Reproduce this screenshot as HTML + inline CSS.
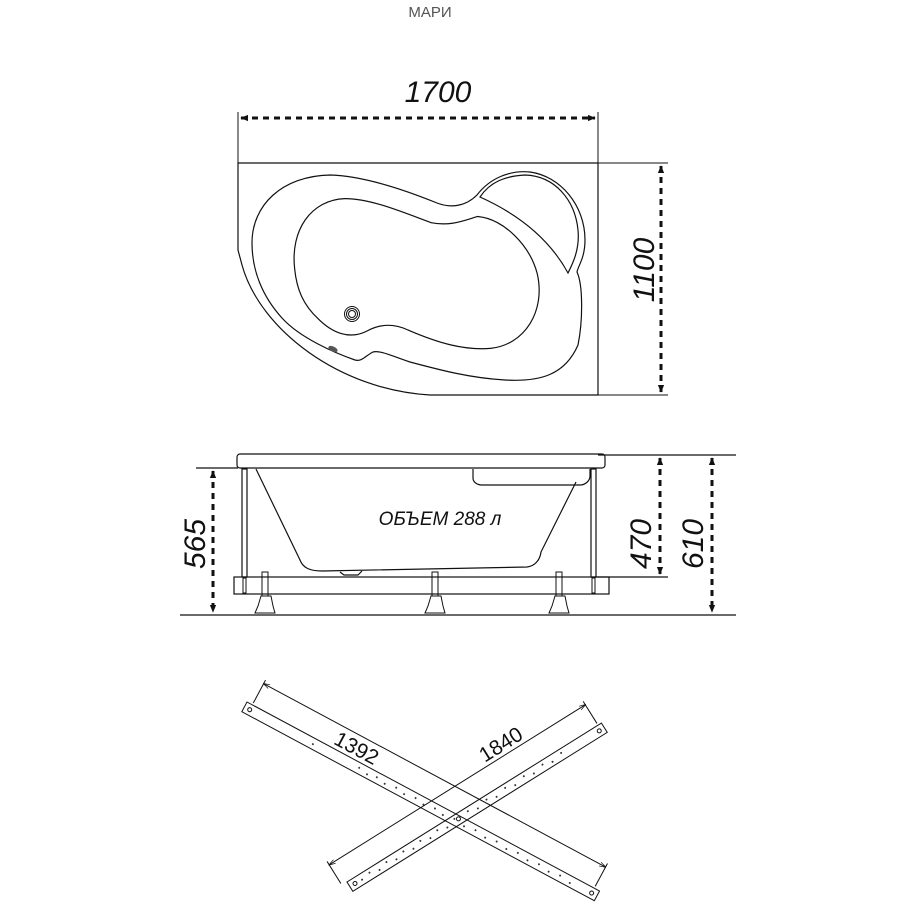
<!DOCTYPE html>
<html><head><meta charset="utf-8"><style>
html,body{margin:0;padding:0;background:#fff;}
svg{display:block;}
text{font-family:"Liberation Sans","DejaVu Sans",sans-serif;}
</style></head><body>
<svg width="912" height="912" viewBox="0 0 912 912" xmlns="http://www.w3.org/2000/svg">
<defs>
<marker id="ar" viewBox="0 0 10 10" refX="9" refY="5" markerWidth="8" markerHeight="8" orient="auto-start-reverse" markerUnits="userSpaceOnUse"><path d="M0,1 L10,5 L0,9 z" fill="#111"/></marker>
<marker id="as" viewBox="0 0 10 10" refX="9" refY="5" markerWidth="7" markerHeight="7" orient="auto-start-reverse" markerUnits="userSpaceOnUse"><path d="M0,2 L10,5 L0,8" fill="none" stroke="#111"/></marker>
</defs>
<text x="430" y="17" font-size="15" fill="#555" text-anchor="middle">МАРИ</text>

<!-- top view dims -->
<g stroke="#111" fill="none" stroke-width="1">
<line x1="238" y1="112" x2="238" y2="164"/>
<line x1="598" y1="112" x2="598" y2="164"/>
<line x1="598" y1="163" x2="668" y2="163"/>
<line x1="598" y1="395" x2="668" y2="395"/>
</g>
<g stroke="#111" stroke-width="3" fill="none">
<line x1="241" y1="118" x2="595" y2="118" stroke-dasharray="6,5" marker-start="url(#ar)" marker-end="url(#ar)"/>
<line x1="661" y1="166" x2="661" y2="392" stroke-dasharray="6,5" marker-start="url(#ar)" marker-end="url(#ar)"/>
</g>
<text x="438" y="102" font-size="30" font-style="italic" text-anchor="middle" fill="#111">1700</text>
<text transform="translate(654,270) rotate(-90)" font-size="30" font-style="italic" text-anchor="middle" fill="#111">1100</text>

<!-- top view bath -->
<g fill="none" stroke="#111" stroke-width="1.2">
<path d="M238,163 L598,163 L598,395 L430,395 C340,390 260,330 242,265 L238,250 Z"/>
<path d="M252,243 C252,205 282,176 330,175 C365,176 405,190 437,203 C450,208 465,207 477,195 C490,178 510,170 530,172 C560,176 585,205 585,240 C585,258 578,266 577,272 C583,285 583,320 578,345 C565,375 540,382 505,380 C470,378 440,370 410,362 C392,356 380,350 373,352 C365,356 362,362 355,360 C335,353 300,338 282,318 C262,296 252,270 252,243 Z"/>
<path d="M480,197 C490,182 505,176 525,175 C555,176 575,200 578,230 C580,250 572,265 568,273 C550,240 520,215 480,197 Z"/>
</g>
<path d="M300,268 C296,232 315,205 345,204 C370,204 400,217 430,228 C450,232 465,226 478,222 C500,224 525,248 532,275 C540,310 520,340 490,343 C465,345 440,338 410,325 C395,318 380,318 365,326 C350,334 335,328 322,315 C308,302 302,288 300,268 Z" fill="none" stroke="#111" stroke-width="12"/>
<path d="M300,268 C296,232 315,205 345,204 C370,204 400,217 430,228 C450,232 465,226 478,222 C500,224 525,248 532,275 C540,310 520,340 490,343 C465,345 440,338 410,325 C395,318 380,318 365,326 C350,334 335,328 322,315 C308,302 302,288 300,268 Z" fill="#fff" stroke="#fff" stroke-width="9.6"/>
<g fill="none" stroke="#111" stroke-width="1">
<circle cx="352" cy="314" r="7.5"/><circle cx="352" cy="314" r="5.5"/><circle cx="352" cy="314" r="3.5"/>
</g>
<ellipse cx="333" cy="349" rx="5" ry="2.5" fill="#555" transform="rotate(25 333 349)"/>

<!-- side view -->
<g stroke="#111" fill="none" stroke-width="1.2">
<line x1="598" y1="455" x2="736" y2="455"/>
<line x1="196" y1="468" x2="238" y2="468"/>
<line x1="595" y1="577" x2="668" y2="577"/>
<line x1="180" y1="615" x2="736" y2="615"/>
<rect x="237" y="454" width="368" height="14" rx="3"/>
<path d="M256,469 L300,560 C303,568 310,571 322,571 L527,567 C535,566 540,560 541,552 L576,482"/>
<path d="M473,469 L473,478 C473,482 477,485 482,485 L580,485 C585,485 590,481 590,476 L590,469"/>
<rect x="242" y="469" width="5" height="108"/>
<rect x="591" y="469" width="5" height="108"/>
<rect x="234" y="577" width="375" height="17"/>
<path d="M340,572 L344,575 L358,575 L362,571"/>
</g>
<g stroke="#111" fill="none" stroke-width="1">
<g><rect x="262" y="572" width="6" height="24"/><path d="M261,596 L271,596 L273,606 L275,613 L255,613 L258,606 Z"/></g>
<g><rect x="432" y="572" width="6" height="24"/><path d="M431,596 L441,596 L443,606 L445,613 L425,613 L428,606 Z"/></g>
<g><rect x="556" y="572" width="6" height="24"/><path d="M555,596 L565,596 L567,606 L569,613 L549,613 L552,606 Z"/></g>
<rect x="243" y="578" width="3" height="15"/><rect x="592" y="578" width="3" height="15"/>
</g>
<g stroke="#111" stroke-width="3" fill="none">
<line x1="213" y1="471" x2="213" y2="612" stroke-dasharray="6,5" marker-start="url(#ar)" marker-end="url(#ar)"/>
<line x1="660" y1="458" x2="660" y2="574" stroke-dasharray="6,5" marker-start="url(#ar)" marker-end="url(#ar)"/>
<line x1="712" y1="458" x2="712" y2="612" stroke-dasharray="6,5" marker-start="url(#ar)" marker-end="url(#ar)"/>
</g>
<text transform="translate(205,544) rotate(-90)" font-size="30" font-style="italic" text-anchor="middle" fill="#111">565</text>
<text transform="translate(651,544) rotate(-90)" font-size="30" font-style="italic" text-anchor="middle" fill="#111">470</text>
<text transform="translate(703,544) rotate(-90)" font-size="30" font-style="italic" text-anchor="middle" fill="#111">610</text>
<text x="440" y="525" font-size="19" font-style="italic" text-anchor="middle" fill="#111">ОБЪЕМ 288 л</text>

<!-- bottom bars -->
<g transform="translate(247,702) rotate(28.2)" stroke="#111" fill="none" stroke-width="1">
<rect x="0" y="0" width="400" height="11"/>
<line x1="6" y1="-24" x2="394" y2="-24" marker-start="url(#as)" marker-end="url(#as)"/>
<line x1="6" y1="-28" x2="6" y2="-2"/>
<line x1="394" y1="-28" x2="394" y2="-2"/>
<circle cx="6" cy="5.5" r="2"/><circle cx="394" cy="5.5" r="2"/>
<g fill="#333" stroke="none">
<circle cx="78" cy="6" r="1"/><circle cx="130" cy="5" r="1"/><circle cx="140" cy="7" r="1"/><circle cx="150" cy="5" r="1"/><circle cx="160" cy="7" r="1"/><circle cx="172" cy="5" r="1"/><circle cx="182" cy="7" r="1"/><circle cx="194" cy="5" r="1"/><circle cx="204" cy="7" r="1"/><circle cx="216" cy="5" r="1"/><circle cx="226" cy="7" r="1"/><circle cx="238" cy="5" r="1"/><circle cx="250" cy="7" r="1"/><circle cx="262" cy="5" r="1"/><circle cx="274" cy="7" r="1"/><circle cx="286" cy="5" r="1"/><circle cx="298" cy="7" r="1"/><circle cx="310" cy="5" r="1"/><circle cx="322" cy="7" r="1"/><circle cx="334" cy="5" r="1"/><circle cx="346" cy="7" r="1"/><circle cx="358" cy="5" r="1"/><circle cx="370" cy="7" r="1"/>
</g>
<text x="95" y="-4" font-size="21" fill="#111" stroke="none">1392</text>
</g>
<g transform="translate(347,882) rotate(-32)" stroke="#111" fill="none" stroke-width="1">
<rect x="0" y="0" width="300" height="11"/>
<line x1="-6" y1="-24" x2="296" y2="-24" marker-start="url(#as)" marker-end="url(#as)"/>
<line x1="-6" y1="-28" x2="-6" y2="-2"/>
<line x1="296" y1="-28" x2="296" y2="-2"/>
<circle cx="6" cy="5.5" r="2"/><circle cx="294" cy="5.5" r="2"/><circle cx="128" cy="5.5" r="2"/>
<g fill="#333" stroke="none">
<circle cx="14" cy="6" r="1"/><circle cx="24" cy="4" r="1"/><circle cx="34" cy="7" r="1"/><circle cx="44" cy="4" r="1"/><circle cx="54" cy="7" r="1"/><circle cx="64" cy="4" r="1"/><circle cx="74" cy="7" r="1"/><circle cx="84" cy="4" r="1"/><circle cx="94" cy="7" r="1"/><circle cx="104" cy="4" r="1"/><circle cx="114" cy="7" r="1"/><circle cx="140" cy="4" r="1"/><circle cx="150" cy="7" r="1"/><circle cx="162" cy="4" r="1"/><circle cx="172" cy="7" r="1"/><circle cx="184" cy="4" r="1"/><circle cx="194" cy="7" r="1"/><circle cx="206" cy="4" r="1"/><circle cx="216" cy="7" r="1"/><circle cx="228" cy="4" r="1"/><circle cx="238" cy="7" r="1"/><circle cx="250" cy="4" r="1"/>
</g>
<text x="180" y="-28" font-size="21" fill="#111" stroke="none">1840</text>
</g>
</svg>
</body></html>
